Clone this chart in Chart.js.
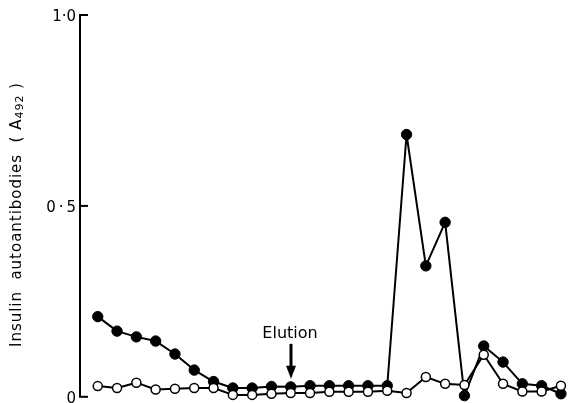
<!DOCTYPE html>
<html>
<head>
<meta charset="utf-8">
<script src="https://cdn.jsdelivr.net/npm/chart.js@4.4.1/dist/chart.umd.min.js"></script>
<style>
  html, body { margin: 0; padding: 0; background: #fff; }
  #wrap { width: 571px; height: 403px; }
</style>
</head>
<body>
<div id="wrap"><canvas id="c" width="571" height="403"></canvas></div>
<script>
// ---- data ----
const fractions = [1,2,3,4,5,6,7,8,9,10,11,12,13,14,15,16,17,18,19,20,21,22,23,24,25];
const filledSeries = [0.210,0.172,0.157,0.146,0.112,0.070,0.040,0.023,0.023,0.027,0.026,0.029,0.029,0.029,0.029,0.029,0.687,0.343,0.457,0.003,0.133,0.091,0.034,0.029,0.008];
const openSeries   = [0.028,0.023,0.037,0.019,0.021,0.023,0.023,0.005,0.005,0.008,0.010,0.010,0.013,0.013,0.013,0.016,0.010,0.052,0.034,0.031,0.110,0.034,0.014,0.014,0.029];
const yTickValues = [0, 0.5, 1.0];
const yTickLabels = ['0', '0\u2009·\u20095', '1·0'];
const yTitleMain = 'Insulin  autoantibodies  ( A';
const yTitleSub = '492';
const yTitleEnd = ' )';
const elutionLabel = 'Elution';
const elutionFraction = 11;

const FONT = '"DejaVu Sans", "Liberation Sans", Arial, sans-serif';

const inwardTicks = {
  id: 'inwardTicks',
  afterDraw(chart) {
    const ys = chart.scales.y, ctx = chart.ctx, left = chart.chartArea.left;
    ctx.save();
    ctx.strokeStyle = '#000';
    ctx.lineWidth = 2;
    yTickValues.forEach(v => {
      const py = ys.getPixelForValue(v);
      ctx.beginPath();
      ctx.moveTo(left - 1, py);
      ctx.lineTo(left + 8, py);
      ctx.stroke();
    });
    ctx.restore();
  }
};

const titlePlugin = {
  id: 'titlePlugin',
  afterDraw(chart) {
    const ctx = chart.ctx;
    const startY = 347, endY = 82;
    ctx.save();
    ctx.fillStyle = '#000';
    ctx.textAlign = 'left';
    ctx.textBaseline = 'middle';
    ctx.font = '15px ' + FONT;
    const w1 = ctx.measureText(yTitleMain).width + ctx.measureText(yTitleEnd).width;
    ctx.font = '11px ' + FONT;
    const w2 = ctx.measureText(yTitleSub).width;
    const nChars = yTitleMain.length + yTitleSub.length + yTitleEnd.length;
    const sp = Math.max(0, ((startY - endY) - w1 - w2) / nChars);
    if ('letterSpacing' in ctx) ctx.letterSpacing = sp.toFixed(2) + 'px';
    ctx.translate(17, startY);
    ctx.rotate(-Math.PI / 2);
    ctx.font = '15px ' + FONT;
    ctx.fillText(yTitleMain, 0, 0);
    let x = ctx.measureText(yTitleMain).width;
    ctx.font = '11px ' + FONT;
    ctx.fillText(yTitleSub, x, 3);
    x += ctx.measureText(yTitleSub).width;
    ctx.font = '15px ' + FONT;
    ctx.fillText(yTitleEnd, x, 0);
    ctx.restore();
  }
};

const elutionPlugin = {
  id: 'elutionPlugin',
  afterDraw(chart) {
    const ctx = chart.ctx, xs = chart.scales.x, ys = chart.scales.y;
    const px = Math.round(xs.getPixelForValue(elutionFraction));
    const tipY = ys.getPixelForValue(filledSeries[elutionFraction - 1]) - 8;
    ctx.save();
    ctx.fillStyle = '#000';
    ctx.font = '16px ' + FONT;
    ctx.textAlign = 'center';
    ctx.textBaseline = 'middle';
    ctx.fillText(elutionLabel, px - 1, tipY - 45);
    ctx.fillRect(px - 1.5, tipY - 35, 3, 24);
    ctx.beginPath();
    ctx.moveTo(px - 5, tipY - 13);
    ctx.lineTo(px + 5, tipY - 13);
    ctx.lineTo(px, tipY);
    ctx.closePath();
    ctx.fill();
    ctx.restore();
  }
};

new Chart(document.getElementById('c'), {
  type: 'line',
  data: {
    datasets: [
      {
        label: 'open',
        data: fractions.map((f, i) => ({ x: f, y: openSeries[i] })),
        borderColor: '#000',
        borderWidth: 2,
        borderJoinStyle: 'round',
        backgroundColor: '#fff',
        pointBackgroundColor: '#fff',
        pointBorderColor: '#000',
        pointBorderWidth: 1.5,
        pointRadius: 4.5,
        tension: 0,
        clip: false,
        order: 1
      },
      {
        label: 'filled',
        data: fractions.map((f, i) => ({ x: f, y: filledSeries[i] })),
        borderColor: '#000',
        borderWidth: 2,
        borderJoinStyle: 'round',
        backgroundColor: '#000',
        pointBackgroundColor: '#000',
        pointBorderColor: '#000',
        pointBorderWidth: 1,
        pointRadius: 5.2,
        tension: 0,
        clip: false,
        order: 2
      }
    ]
  },
  options: {
    responsive: false,
    animation: false,
    devicePixelRatio: 1,
    layout: { padding: { top: 15, bottom: 5, left: 0, right: 0 } },
    plugins: { legend: { display: false }, tooltip: { enabled: false }, title: { display: false } },
    scales: {
      x: {
        type: 'linear',
        min: 0.08,
        max: 25.2,
        display: false
      },
      y: {
        type: 'linear',
        min: 0,
        max: 1,
        afterFit(scale) {
          scale.width = 80;
          scale.paddingTop = 0;
          scale.paddingBottom = 0;
        },
        afterBuildTicks(scale) { scale.ticks = yTickValues.map(v => ({ value: v })); },
        ticks: {
          callback: (v) => yTickLabels[yTickValues.indexOf(v)] ?? '',
          color: '#000',
          font: { size: 15, family: FONT },
          padding: 4,
          labelOffset: 2
        },
        grid: { display: false, drawTicks: false },
        border: { display: true, color: '#000', width: 2 }
      }
    }
  },
  plugins: [inwardTicks, titlePlugin, elutionPlugin]
});
</script>
</body>
</html>
